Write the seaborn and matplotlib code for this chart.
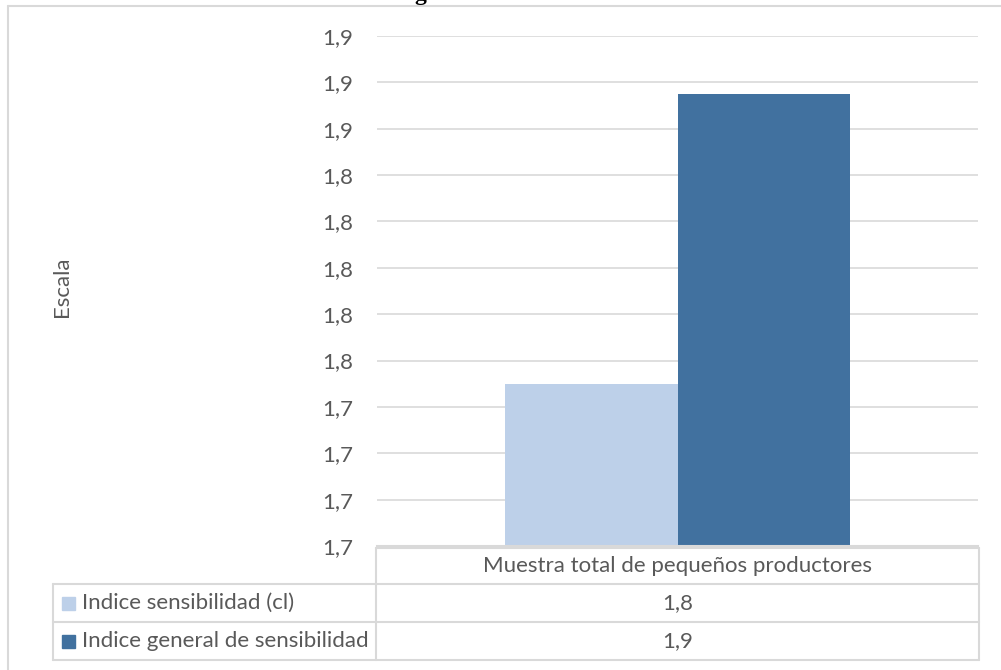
import matplotlib
matplotlib.use("Agg")
import matplotlib.pyplot as plt
import seaborn as sns
import pandas as pd
from matplotlib.lines import Line2D
from matplotlib.patches import Rectangle
from matplotlib.ticker import FuncFormatter

# ---- data ----
categories = ["Muestra total de pequeños productores"]
series_names = ["Indice sensibilidad (cl)", "Indice general de sensibilidad"]
values_cl = [1.75]
values_general = [1.875]
y_ticks = [1.68, 1.70, 1.72, 1.74, 1.76, 1.78, 1.80, 1.82, 1.84, 1.86, 1.88, 1.90]
y_label = "Escala"
title_text = "general"

colors = ["#BDD0E9", "#41719F"]
text_color = "#595959"
grid_color = "#D9D9D9"
fs = 16

df = pd.DataFrame({
    "categoria": categories * 2,
    "serie": [series_names[0]] * len(categories) + [series_names[1]] * len(categories),
    "valor": values_cl + values_general,
})

sns.set_theme(style="white")
plt.rcParams["font.family"] = ["Lato", "DejaVu Sans"]

W, H = 1001, 670
fig = plt.figure(figsize=(W / 100, H / 100), dpi=100)

def fx(px):
    return px / W

def fy(py):
    return 1 - py / H

ax_l, ax_r, ax_t, ax_b = 377, 978, 36, 546
ax = fig.add_axes([fx(ax_l), fy(ax_b), fx(ax_r - ax_l), (ax_b - ax_t) / H])

sns.barplot(data=df, x="categoria", y="valor", hue="serie", hue_order=series_names,
            palette=colors, width=0.574, saturation=1, linewidth=0, ax=ax, legend=False)

ax.set_xlim(-0.5, 0.5)
ax.set_ylim(y_ticks[0], y_ticks[-1])
ax.set_yticks(y_ticks)
ax.yaxis.set_major_formatter(FuncFormatter(lambda v, p: f"{v:.1f}".replace(".", ",")))
ax.tick_params(axis="y", length=0, pad=17, labelsize=fs, labelcolor=text_color)
ax.set_xticks([])
ax.set_xlabel("")
ax.set_ylabel("")
ax.grid(axis="y", color=grid_color, linewidth=1.2)
ax.set_axisbelow(True)
for s in ["top", "right", "left"]:
    ax.spines[s].set_visible(False)
ax.spines["bottom"].set_color(grid_color)
ax.spines["bottom"].set_linewidth(1.5)

# y axis label
fig.text(fx(62), fy(287), y_label, rotation=90, ha="center", va="center",
         fontsize=fs, color=text_color)

# partially visible title (cut off at the top edge, as in the reference)
fig.text(fx(414), fy(0), title_text, ha="left", va="baseline", fontsize=17,
         fontweight="bold", family=["Liberation Serif", "DejaVu Serif"], color="black")

# chart frame
lw = 1.5
fig.add_artist(Line2D([fx(8), fx(8)], [fy(6), fy(670)], color=grid_color, lw=lw))
fig.add_artist(Line2D([fx(8), fx(1001)], [fy(6), fy(6)], color=grid_color, lw=lw))

# data table
tbl_l, tbl_m, tbl_r = 53, 376, 979
r0, r1, r2, r3 = 548, 584, 622, 660
def hline(y, x0, x1):
    fig.add_artist(Line2D([fx(x0), fx(x1)], [fy(y), fy(y)], color=grid_color, lw=lw))
def vline(x, y0, y1):
    fig.add_artist(Line2D([fx(x), fx(x)], [fy(y0), fy(y1)], color=grid_color, lw=lw))

hline(r0, tbl_m, tbl_r)
hline(r1, tbl_l, tbl_r)
hline(r2, tbl_l, tbl_r)
hline(r3, tbl_l, tbl_r)
vline(tbl_l, r1, r3)
vline(tbl_m, r0, r3)
vline(tbl_r, r0, r3)

center_x = (tbl_m + tbl_r) / 2
fig.text(fx(center_x), fy((r0 + r1) / 2), categories[0], ha="center", va="center",
         fontsize=fs, color=text_color)

row_vals = [values_cl, values_general]
rows = [(r1, r2), (r2, r3)]
for name, col, vals, (ya, yb) in zip(series_names, colors, row_vals, rows):
    yc = (ya + yb) / 2
    fig.add_artist(Rectangle((fx(62), fy(yc + 6.5)), fx(13), 13 / H, color=col,
                             transform=fig.transFigure))
    fig.text(fx(82), fy(yc), name, ha="left", va="center", fontsize=fs, color=text_color)
    fig.text(fx(center_x), fy(yc), f"{vals[0]:.1f}".replace(".", ","), ha="center",
             va="center", fontsize=fs, color=text_color)

fig.savefig("out.png", dpi=100)
